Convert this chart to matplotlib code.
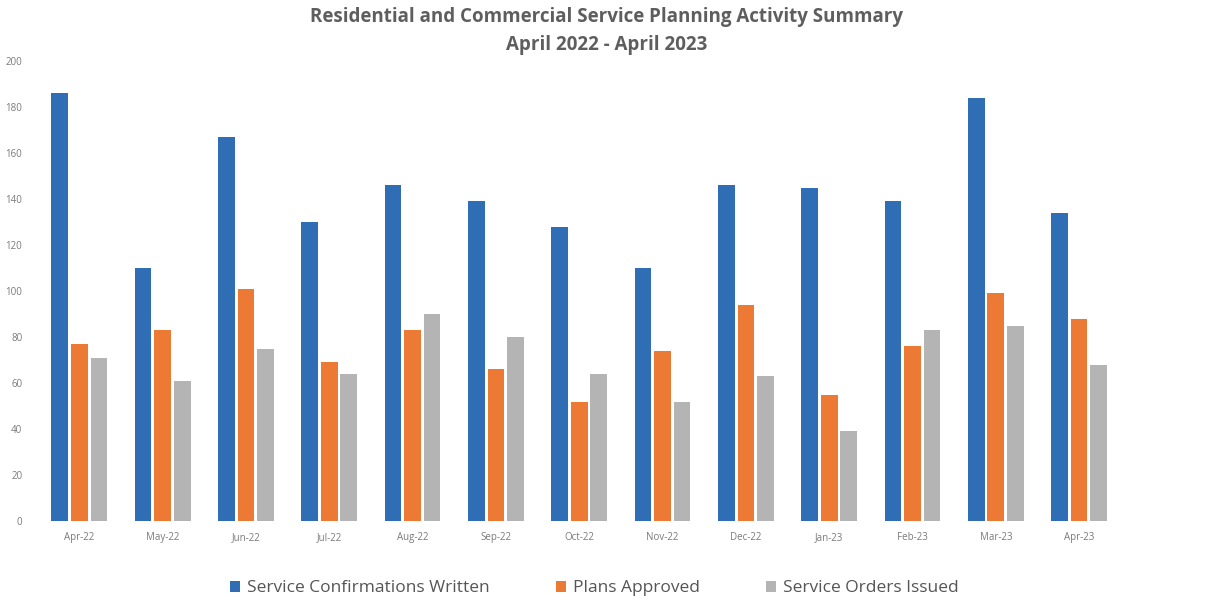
import numpy as np
import matplotlib.pyplot as plt

months = ['Apr-22', 'May-22', 'Jun-22', 'Jul-22', 'Aug-22', 'Sep-22', 'Oct-22',
          'Nov-22', 'Dec-22', 'Jan-23', 'Feb-23', 'Mar-23', 'Apr-23']
confirmations = [186, 110, 167, 130, 146, 139, 128, 110, 146, 145, 139, 184, 134]
plans_approved = [77, 83, 101, 69, 83, 66, 52, 74, 94, 55, 76, 99, 88]
orders_issued = [71, 61, 75, 64, 90, 80, 64, 52, 63, 39, 83, 85, 68]

plt.rcParams['font.family'] = ['Open Sans', 'DejaVu Sans']

fig = plt.figure(figsize=(12.13, 5.99), dpi=100)
ax = fig.add_axes([0.031, 0.130, 0.893, 0.768])

x = np.arange(len(months))
w = 0.2
gap = 0.035
ax.bar(x - w - gap, confirmations, w, color='#2f6eb5', label='Service Confirmations Written')
ax.bar(x, plans_approved, w, color='#ec7a35', label='Plans Approved')
ax.bar(x + w + gap, orders_issued, w, color='#b4b4b4', label='Service Orders Issued')

ax.set_xlim(-0.5, len(months) - 0.5)
ax.set_ylim(0, 200)
ax.set_yticks(range(0, 201, 20))
ax.set_xticks(x)
ax.set_xticklabels(months)
ax.tick_params(length=0, labelsize=7, colors='#7a7a7a')
ax.tick_params(axis='x', pad=8)
ax.tick_params(axis='y', pad=11)
for s in ax.spines.values():
    s.set_visible(False)

fig.suptitle('Residential and Commercial Service Planning Activity Summary\nApril 2022 - April 2023',
             y=0.988, fontsize=13.5, fontweight='bold', color='#5e5e5e', linespacing=1.5)

fig.legend(loc='center', bbox_to_anchor=(0.49, 0.018), ncol=3, frameon=False,
           fontsize=12.5, labelcolor='#555555', handlelength=0.6, handleheight=0.6,
           handletextpad=0.4, columnspacing=3.8)

fig.savefig('out.png', dpi=100)
